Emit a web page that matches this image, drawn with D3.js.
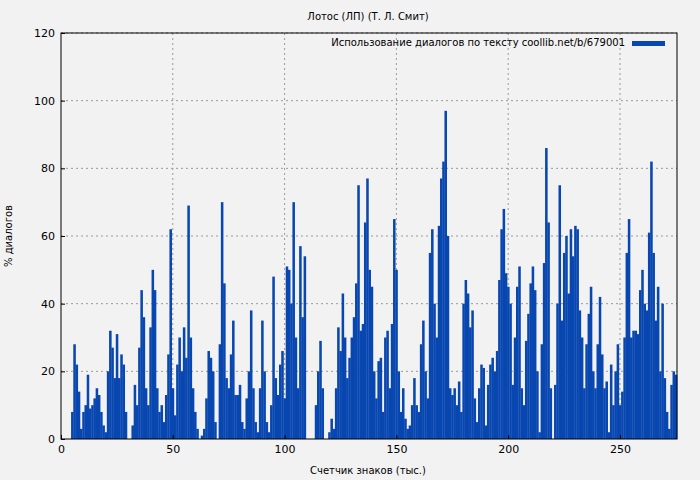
<!DOCTYPE html>
<html><head><meta charset="utf-8">
<script src="https://cdn.jsdelivr.net/npm/d3@7"></script>
<style>body{margin:0;background:#f2f2f2}text{font-family:"DejaVu Sans",sans-serif}</style>
</head><body><svg id="c" width="700" height="480"></svg>
<script>
// один столбец на каждую тысячу знаков
var values = [0,0,0,0,0,8,28,22,14,3,8,10,19,9,10,12,15,13,8,4,2,20,32,27,18,31,18,25,22,8,
0,0,4,16,10,27,44,36,15,10,33,50,44,15,8,10,5,13,25,62,15,7,22,30,20,33,24,69,30,15,
8,3,0,1,3,12,26,24,20,5,0,28,70,46,18,15,25,35,13,13,16,5,3,12,20,38,15,5,2,15,
35,20,5,2,10,48,18,13,22,26,12,51,50,40,70,30,15,57,36,54,0,0,0,0,10,20,29,15,0,0,
2,6,3,15,33,26,43,30,18,24,30,36,46,75,32,34,64,77,50,45,20,12,23,24,8,30,32,15,34,65,
50,20,8,15,6,3,4,10,18,10,8,28,35,20,12,55,62,40,30,63,77,82,97,60,15,13,15,10,17,8,
40,47,43,33,38,12,5,15,22,21,4,16,22,24,20,26,47,62,68,49,45,40,16,30,45,51,15,10,29,37,
46,51,44,20,2,28,52,86,64,15,0,16,40,75,35,55,60,43,62,54,63,62,38,30,15,28,37,45,20,15,
28,42,25,15,17,2,22,10,20,28,10,14,30,55,65,30,32,32,31,44,50,40,38,61,82,55,35,45,20,40,
18,8,3,16,20,19];
var xTicks = [0,50,100,150,200,250];
var yTicks = [0,20,40,60,80,100,120];
var title = "Лотос (ЛП) (Т. Л. Смит)";
var legendText = "Использование диалогов по тексту coollib.net/b/679001";

var svg = d3.select("#c");
var m = {l:61, r:677, t:33, b:439};
var x = d3.scaleLinear().domain([0,275.5]).range([m.l,m.r]);
var y = d3.scaleLinear().domain([0,120]).range([m.b,m.t]);

svg.append("g").selectAll("line.gx").data(xTicks.slice(1)).join("line")
  .attr("x1",d=>x(d)).attr("x2",d=>x(d)).attr("y1",m.t).attr("y2",m.b)
  .attr("stroke","#999").attr("stroke-dasharray","2,3");
svg.append("g").selectAll("line.gy").data(yTicks.slice(1)).join("line")
  .attr("x1",m.l).attr("x2",m.r).attr("y1",d=>y(d)).attr("y2",d=>y(d))
  .attr("stroke","#999").attr("stroke-dasharray","2,3");

svg.append("g").selectAll("rect").data(values).join("rect")
  .attr("x",(d,i)=>x(i-0.5)).attr("width",x(1)-x(0)+0.3)
  .attr("y",d=>y(d)).attr("height",d=>y(0)-y(d)).attr("fill","#0846b0");

svg.append("rect").attr("x",m.l).attr("y",m.t).attr("width",m.r-m.l).attr("height",m.b-m.t)
  .attr("fill","none").attr("stroke","#000");

var ax = svg.append("g").attr("transform","translate(0,"+m.b+")")
  .call(d3.axisBottom(x).tickValues(xTicks).tickSize(-4).tickPadding(6));
var ay = svg.append("g").attr("transform","translate("+m.l+",0)")
  .call(d3.axisLeft(y).tickValues(yTicks).tickSize(-4).tickPadding(6));
[ax,ay].forEach(a=>{a.select(".domain").remove();a.selectAll("text").attr("font-size",11).attr("fill","#000").style("font-family","DejaVu Sans");});

svg.append("text").attr("x",368).attr("y",20).attr("text-anchor","middle").attr("font-size",10).text(title);
svg.append("text").attr("x",368).attr("y",474).attr("text-anchor","middle").attr("font-size",10).text("Счетчик знаков (тыс.)");
svg.append("text").attr("transform","translate(12,236) rotate(-90)").attr("text-anchor","middle").attr("font-size",10).text("% диалогов");
svg.append("text").attr("x",625).attr("y",46).attr("text-anchor","end").attr("font-size",10).text(legendText);
svg.append("rect").attr("x",632).attr("y",41).attr("width",33).attr("height",5).attr("fill","#0846b0");
</script></body></html>
